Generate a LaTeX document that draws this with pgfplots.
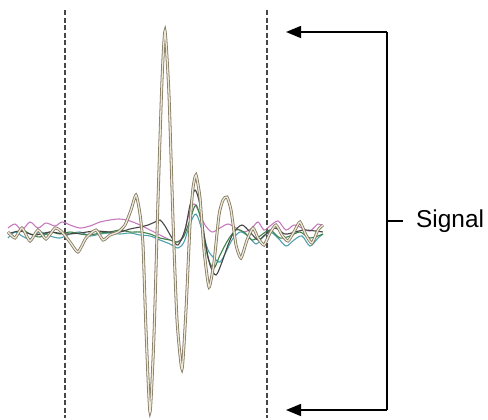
\documentclass[border=0pt]{standalone}
\usepackage{pgfplots}
\pgfplotsset{compat=1.18}
\usepackage{fontspec}
\setmainfont{Liberation Sans}
\usetikzlibrary{arrows.meta}
\definecolor{brownsig}{RGB}{130,120,98}
\definecolor{brownin}{RGB}{238,232,215}
\definecolor{pinksig}{RGB}{200,120,190}
\definecolor{tealsig}{RGB}{80,160,175}
\definecolor{greensig}{RGB}{60,130,70}
\definecolor{darksig}{RGB}{70,70,70}
\definecolor{dashgray}{RGB}{70,70,70}
\begin{document}
\begin{tikzpicture}
\begin{axis}[
  hide axis, scale only axis,
  x=1bp, y=1bp,
  xmin=0, xmax=488, ymin=0, ymax=418,
  y dir=reverse, clip=false,
]
\path (axis cs:0,0) rectangle (axis cs:488,418);
% dashed window lines
\addplot[dashgray, line width=2.2bp, dash pattern=on 5bp off 2.5bp] coordinates {(65,10) (65,418)};
\addplot[dashgray, line width=2.2bp, dash pattern=on 5bp off 2.5bp] coordinates {(267,10) (267,418)};
% pink trace
\addplot[pinksig, line width=1.1bp, smooth, tension=0.5] coordinates {
(8,228) (15,224) (22,230) (30,222) (38,228) (46,223) (55,226) (62,222) (70,225) (80,228) (90,226) (100,222) (110,220) (120,219) (130,221) (140,225) (150,230) (160,235) (170,240) (177,242) (183,236) (189,214) (194,204) (200,214) (205,225) (212,232) (220,228) (228,224) (236,228) (244,232) (252,228) (258,222) (264,230) (270,226) (278,221) (286,230) (294,225) (302,228) (310,231) (318,224) (323,226)};
% teal trace
\addplot[tealsig, line width=1.1bp, smooth, tension=0.5] coordinates {
(8,238) (15,232) (22,236) (30,239) (40,232) (50,236) (60,238) (70,234) (80,232) (90,236) (100,234) (110,233) (120,234) (130,233) (140,235) (150,236) (160,240) (170,244) (178,248) (184,242) (190,224) (196,214) (202,230) (208,250) (214,258) (220,262) (226,252) (232,240) (240,232) (248,236) (256,244) (262,238) (270,232) (278,238) (286,246) (294,240) (302,236) (310,246) (318,238) (323,234)};
% green trace
\addplot[greensig, line width=1.1bp, smooth, tension=0.5] coordinates {
(8,232) (15,237) (22,230) (30,234) (40,237) (50,232) (60,234) (70,232) (80,234) (90,235) (100,233) (110,232) (120,230) (130,232) (140,232) (150,234) (160,238) (170,240) (178,242) (184,236) (190,220) (196,205) (202,225) (208,258) (214,268) (220,255) (228,240) (236,230) (244,232) (252,240) (260,236) (270,230) (280,238) (290,236) (300,232) (310,238) (323,234)};
% dark trace
\addplot[darksig, line width=1.1bp, smooth, tension=0.5] coordinates {
(8,234) (20,231) (35,235) (50,232) (65,234) (80,233) (95,231) (110,232) (120,232) (130,229) (140,227) (148,225) (155,222) (160,220) (165,226) (172,238) (178,245) (185,230) (190,205) (195,190) (200,205) (205,240) (210,265) (216,275) (222,262) (228,245) (234,232) (242,225) (250,232) (258,240) (266,234) (275,228) (285,234) (295,232) (305,230) (323,232)};
% main brown signal
\addplot[brownsig, line width=0.8bp, double=brownin, double distance=1.3bp, smooth, tension=0.35] coordinates {
(8,232) (15,238) (22,228) (30,241) (38,230) (46,239) (55,228) (62,232) (70,242) (78,252) (86,238) (96,230) (103,240) (110,235) (118,232) (125,225) (131,210) (136,195) (140,214) (143,245) (146,330) (150,412) (154,335) (158,200) (162,80) (165,31) (169,95) (173,220) (177,320) (182,369) (186,310) (190,225) (193,188) (196,175) (200,198) (204,250) (209,287) (214,262) (219,215) (223,200) (227,197) (231,210) (236,245) (241,258) (247,240) (253,228) (258,238) (264,245) (270,233) (276,225) (282,235) (288,241) (295,230) (300,222) (306,235) (312,243) (318,230) (323,225)};
% bracket annotation
\draw[black, line width=1.5bp] (axis cs:387,32) -- (axis cs:387,410);
\draw[black, line width=1.5bp, -{Triangle[length=15bp,width=12bp]}] (axis cs:387,32) -- (axis cs:286,32);
\draw[black, line width=1.5bp, -{Triangle[length=15bp,width=12bp]}] (axis cs:387,410) -- (axis cs:286,410);
\draw[black, line width=1.5bp] (axis cs:387,221) -- (axis cs:403,221);
\node[anchor=west, inner sep=0pt, font=\fontsize{24.5}{29}\selectfont] at (axis cs:416,221) {Signal};
\end{axis}
\end{tikzpicture}
\end{document}
